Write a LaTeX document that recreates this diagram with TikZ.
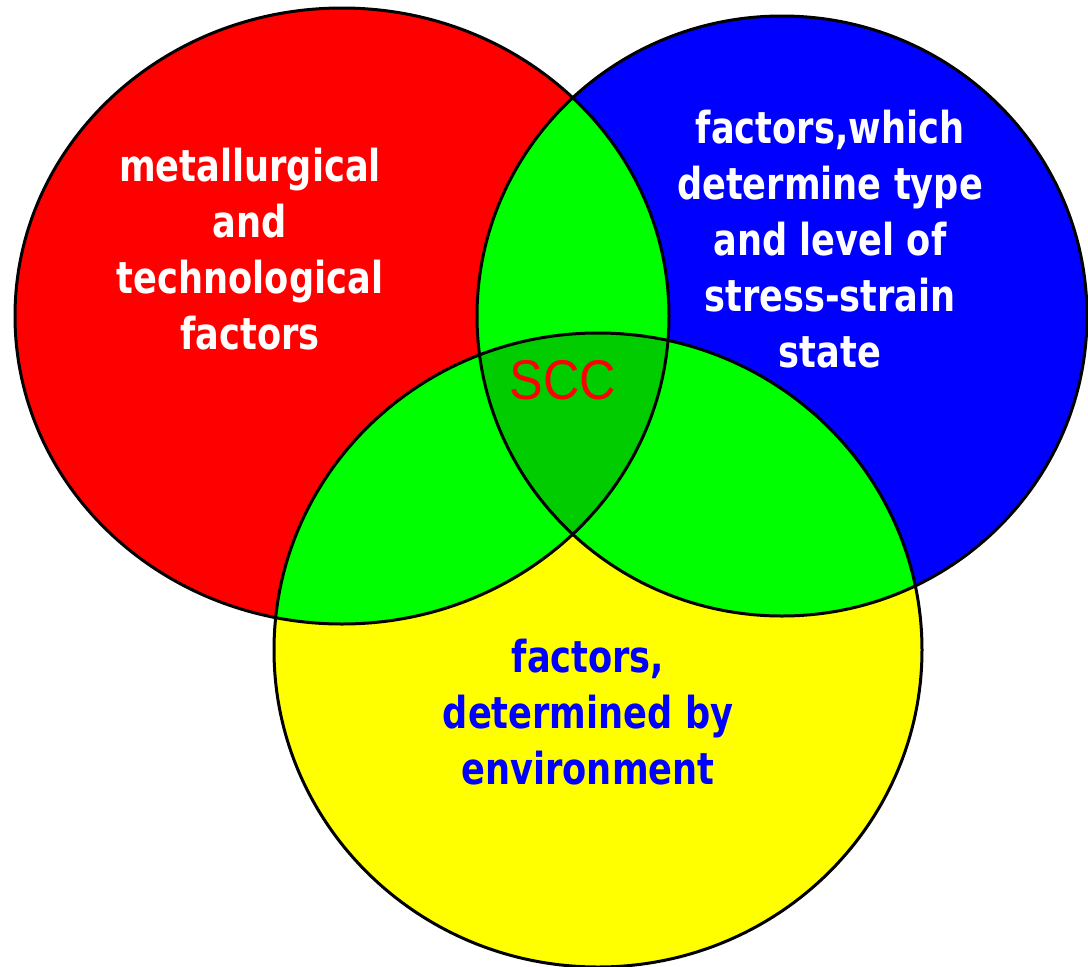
\documentclass[tikz,border=0pt]{standalone}
\usepackage{fontspec}
\newfontfamily\vennfont[FakeStretch=0.80]{DejaVu Sans Bold}
\newfontfamily\sccfont[FakeStretch=0.90]{Liberation Sans}
\definecolor{sccgreen}{RGB}{0,204,0}
\definecolor{envyellow}{RGB}{255,255,0}

\begin{document}
\begin{tikzpicture}[x=1pt,y=-1pt,
    metalsize/.style={x radius=327pt, y radius=308pt},
    stresssize/.style={x radius=305pt, y radius=300pt},
    envsize/.style={x radius=324pt, y radius=317pt},
    outline/.style={draw=black, line width=3pt},
    whitetext/.style={font=\vennfont\fontsize{44}{56}\selectfont, text=white, align=center, anchor=north, inner sep=0pt},
    bluetext/.style={whitetext, text=blue},
    scctext/.style={font=\sccfont\fontsize{56}{60}\selectfont, text=red, anchor=base, inner sep=0pt}]

      \useasboundingbox (0,0) rectangle (1088,967);

      \coordinate (metal) at (342,316);
      \coordinate (stress) at (782,316);
      \coordinate (environ) at (598,650);

      \fill[red, metalsize] (metal) ellipse;
      \fill[blue, stresssize] (stress) ellipse;
      \fill[envyellow, envsize] (environ) ellipse;

      % pairwise overlaps
      \begin{scope}
        \clip[metalsize] (metal) ellipse;
        \fill[green, stresssize] (stress) ellipse;
        \fill[green, envsize] (environ) ellipse;
      \end{scope}
      \begin{scope}
        \clip[stresssize] (stress) ellipse;
        \fill[green, envsize] (environ) ellipse;
      \end{scope}

      % all three
      \begin{scope}
        \clip[metalsize] (metal) ellipse;
        \clip[stresssize] (stress) ellipse;
        \fill[sccgreen, envsize] (environ) ellipse;
      \end{scope}

      \foreach \c/\s in {metal/metalsize, stress/stresssize, environ/envsize}{
         \draw[outline, \s] (\c) ellipse;
      }

	\node[whitetext] (metaltext) at (250,148) {metallurgical\\and\\technological\\factors};
	\node[whitetext] (stresstext) at (830,110) {factors,which\\determine type\\and level of\\stress-strain\\state};
	\node[bluetext] (envtext) at (588,639) {factors,\\determined by\\environment};
	\node[scctext] (scc) at (563,399) {SCC};
    \end{tikzpicture}
\end{document}
